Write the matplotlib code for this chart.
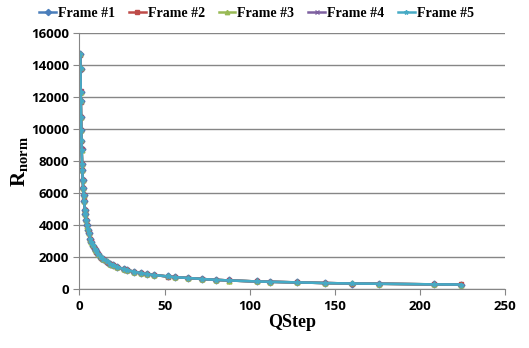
import matplotlib
matplotlib.use("Agg")
import matplotlib.pyplot as plt

# H.264 quantizer step sizes
qstep = [0.625, 0.6875, 0.8125, 0.875, 1, 1.125, 1.25, 1.375, 1.625, 1.75,
         2, 2.25, 2.5, 2.75, 3.25, 3.5, 4, 4.5, 5, 5.5, 6.5, 7, 8, 9, 10, 11,
         13, 14, 16, 18, 20, 22, 26, 28, 32, 36, 40, 44, 52, 56, 64, 72, 80,
         88, 104, 112, 128, 144, 160, 176, 208, 224]

frame1 = [14700, 13800, 12350, 11750, 10780, 9960, 9300, 8740, 7830, 7450,
          6820, 6310, 5890, 5530, 4950, 4720, 4320, 3990, 3730, 3500, 3130,
          2980, 2730, 2530, 2360, 2215, 1980, 1890, 1730, 1600, 1490, 1400,
          1255, 1195, 1095, 1010, 945, 885, 795, 755, 700, 640, 585, 545,
          485, 462, 425, 385, 355, 340, 302, 292]
frame2 = [14650, 13780, 12400, 11720, 10800, 9940, 9280, 8760, 7810, 7470,
          6800, 6330, 5870, 5550, 4930, 4740, 4300, 4000, 3720, 3510, 3120,
          2990, 2720, 2540, 2350, 2220, 1970, 1895, 1725, 1605, 1485, 1405,
          1250, 1200, 1090, 1015, 940, 890, 790, 760, 698, 642, 582, 548,
          483, 465, 422, 387, 352, 342, 300, 294]
frame3 = [14720, 13820, 12330, 11780, 10760, 9980, 9320, 8720, 7850, 7440,
          6840, 6300, 5900, 5520, 4960, 4710, 4330, 3980, 3740, 3490, 3140,
          2970, 2740, 2520, 2370, 2210, 1990, 1885, 1735, 1595, 1495, 1395,
          1260, 1190, 1100, 1005, 950, 880, 800, 750, 702, 638, 588, 542,
          487, 460, 428, 383, 358, 338, 304, 290]
frame4 = [14680, 13790, 12370, 11740, 10790, 9950, 9290, 8750, 7820, 7460,
          6810, 6320, 5880, 5540, 4940, 4730, 4310, 3995, 3725, 3505, 3125,
          2985, 2725, 2535, 2355, 2218, 1975, 1892, 1728, 1602, 1488, 1402,
          1252, 1198, 1092, 1012, 942, 888, 792, 758, 699, 641, 584, 546,
          484, 463, 424, 386, 354, 341, 301, 293]
frame5 = [14710, 13810, 12340, 11760, 10770, 9970, 9310, 8730, 7840, 7450,
          6830, 6305, 5895, 5525, 4955, 4715, 4325, 3985, 3735, 3495, 3135,
          2975, 2735, 2525, 2365, 2212, 1985, 1888, 1732, 1598, 1492, 1398,
          1258, 1192, 1098, 1008, 948, 882, 798, 752, 701, 639, 586, 544,
          486, 461, 426, 384, 356, 339, 303, 291]

labels = ["Frame #1", "Frame #2", "Frame #3", "Frame #4", "Frame #5"]
colors = ["#4A7EBB", "#BE4B48", "#98B954", "#7D60A0", "#46AAC5"]
markers = ["D", "s", "^", "x", "*"]

plt.rcParams["mathtext.fontset"] = "custom"
plt.rcParams["mathtext.bf"] = "Liberation Serif:bold"
plt.rcParams["mathtext.rm"] = "Liberation Serif"

fig = plt.figure(figsize=(5.29, 3.48), dpi=100)
ax = fig.add_axes([0.150, 0.169, 0.805, 0.735])

for ys, lab, c, m in zip([frame1, frame2, frame3, frame4, frame5], labels, colors, markers):
    ax.plot(qstep, ys, color=c, marker=m, markersize=3.5, linewidth=1.8, label=lab)

ax.set_xlim(0, 250)
ax.set_ylim(0, 16000)
ax.set_xticks(range(0, 251, 50))
ax.set_yticks(range(0, 16001, 2000))
ax.yaxis.grid(True, color="#868686", linewidth=1.0)
ax.set_axisbelow(True)
for s in ["top", "right"]:
    ax.spines[s].set_visible(False)
for s in ["left", "bottom"]:
    ax.spines[s].set_color("#868686")
ax.tick_params(direction="out", length=4, color="#868686", labelsize=9.5)
for t in ax.get_xticklabels() + ax.get_yticklabels():
    t.set_fontfamily("Open Sans")
    t.set_fontweight("bold")

ax.set_xlabel("QStep", fontfamily="Liberation Serif", fontweight="bold", fontsize=13, labelpad=1)
ax.set_ylabel(r"$\mathbf{R}_{\mathbf{norm}}$", fontsize=15, labelpad=0)

leg = fig.legend(loc="upper center", bbox_to_anchor=(0.485, 1.015), ncol=5, frameon=False,
                 handlelength=1.2, handletextpad=0.15, columnspacing=1.0, markerscale=0.9,
                 prop={"family": "Liberation Serif", "weight": "bold", "size": 10})

fig.savefig("out.png", dpi=100)
